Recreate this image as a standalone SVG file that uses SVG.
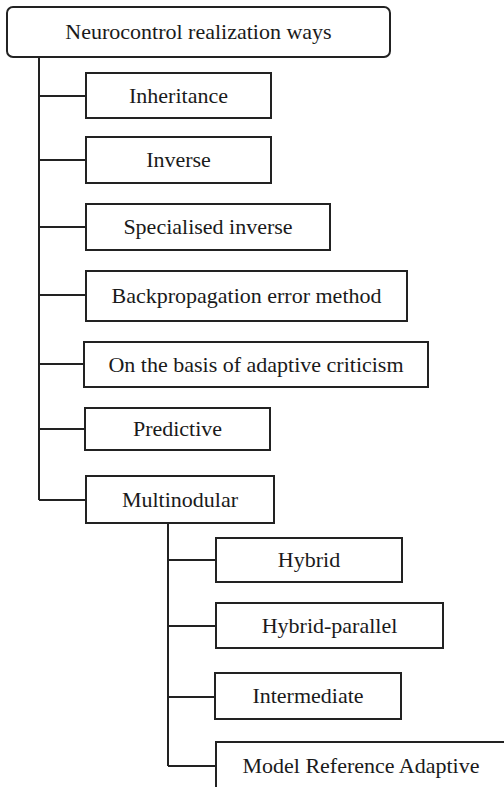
<svg xmlns="http://www.w3.org/2000/svg" width="504" height="787" viewBox="0 0 504 787">
<style>
.box{fill:#fff;stroke:#222;stroke-width:2}
.lbl{font-family:"Liberation Serif","Times New Roman",serif;font-size:22px;fill:#1a1a1a;text-anchor:middle}
.con{fill:none;stroke:#222;stroke-width:2}
</style>
<rect width="504" height="787" fill="#fff"/>
<g id="connectors">
<path class="con" d="M39 57V500M39 96H86M39 160H86M39 227H86M39 295H86M39 364H84M39 429H85M39 500H86"/>
<path class="con" d="M168 523V766M168 560H216M168 626H216M168 697H215M168 766H216"/>
</g>
<g id="root"><rect class="box" x="7" y="7" width="383" height="50" rx="6"/><text class="lbl" x="198.5" y="39">Neurocontrol realization ways</text></g>
<g id="inheritance"><rect class="box" x="86" y="73" width="185" height="45"/><text class="lbl" x="178.5" y="103">Inheritance</text></g>
<g id="inverse"><rect class="box" x="86" y="137" width="185" height="46"/><text class="lbl" x="178.5" y="167">Inverse</text></g>
<g id="specialised"><rect class="box" x="86" y="204" width="244" height="46"/><text class="lbl" x="208" y="234">Specialised inverse</text></g>
<g id="backprop"><rect class="box" x="86" y="271" width="321" height="50"/><text class="lbl" x="246.5" y="303">Backpropagation error method</text></g>
<g id="adaptive-criticism"><rect class="box" x="84" y="342" width="344" height="45"/><text class="lbl" x="256" y="372">On the basis of adaptive criticism</text></g>
<g id="predictive"><rect class="box" x="85" y="408" width="185" height="42"/><text class="lbl" x="177.5" y="436">Predictive</text></g>
<g id="multinodular"><rect class="box" x="86" y="476" width="188" height="47"/><text class="lbl" x="180" y="507">Multinodular</text></g>
<g id="hybrid"><rect class="box" x="216" y="538" width="186" height="44"/><text class="lbl" x="309" y="567">Hybrid</text></g>
<g id="hybrid-parallel"><rect class="box" x="216" y="603" width="227" height="45"/><text class="lbl" x="329.5" y="633">Hybrid-parallel</text></g>
<g id="intermediate"><rect class="box" x="215" y="673" width="186" height="46"/><text class="lbl" x="308" y="703">Intermediate</text></g>
<g id="mra"><rect class="box" x="216" y="742" width="290" height="60"/><text class="lbl" x="361" y="773">Model Reference Adaptive</text></g>
</svg>
